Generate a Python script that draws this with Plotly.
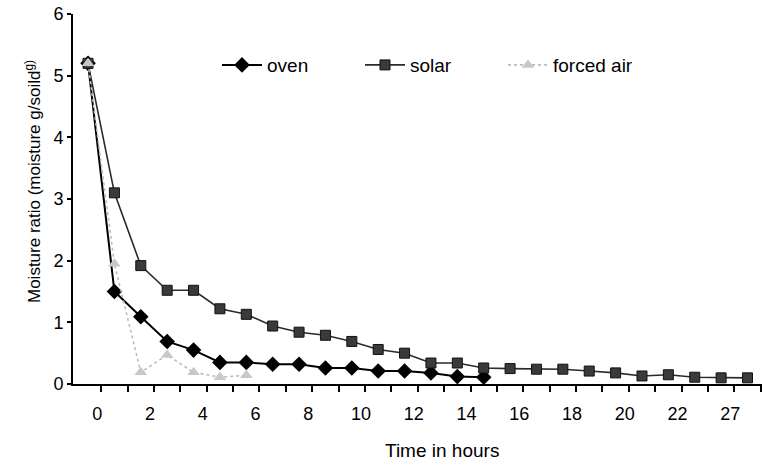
import plotly.graph_objects as go

# Data (x = sample index; points sit between hour ticks)
oven_vals = [5.2, 1.50, 1.09, 0.69, 0.55, 0.35, 0.35, 0.32, 0.32, 0.26, 0.26,
             0.21, 0.21, 0.18, 0.12, 0.11]
solar_vals = [5.2, 3.10, 1.92, 1.52, 1.52, 1.22, 1.13, 0.94, 0.84, 0.79, 0.69,
              0.56, 0.50, 0.34, 0.34, 0.26, 0.25, 0.24, 0.24, 0.21, 0.18,
              0.13, 0.15, 0.11, 0.10, 0.10]
forced_vals = [5.2, 1.95, 0.19, 0.47, 0.19, 0.11, 0.14]

oven_x = list(range(len(oven_vals)))
solar_x = list(range(len(solar_vals)))
forced_x = list(range(len(forced_vals)))

tick_labels = ["0", "2", "4", "6", "8", "10", "12", "14", "16", "18", "20", "22", "27"]
tick_pos = [0.35 + 2 * i for i in range(len(tick_labels))]
minor_pos = [k + 0.5 for k in range(26)]

FONT = "Arial, Liberation Sans, sans-serif"

fig = go.Figure()
fig.add_trace(go.Scatter(
    x=oven_x, y=oven_vals, name="oven", mode="lines+markers",
    line=dict(color="black", width=2),
    marker=dict(symbol="diamond", size=12, color="black"),
))
fig.add_trace(go.Scatter(
    x=solar_x, y=solar_vals, name="solar", mode="lines+markers",
    line=dict(color="#2a2a2a", width=1.6),
    marker=dict(symbol="square", size=10, color="#3a3a3a",
                line=dict(color="#111111", width=1)),
))
fig.add_trace(go.Scatter(
    x=forced_x, y=forced_vals, name="forced air", mode="lines+markers",
    line=dict(color="#bdbdbd", width=1.6, dash="dot"),
    marker=dict(symbol="triangle-up", size=11, color="#c8c8c8"),
))

fig.update_layout(
    width=762, height=465,
    margin=dict(l=73, r=0, t=14, b=81),
    paper_bgcolor="white", plot_bgcolor="white",
    font=dict(family=FONT, color="black", size=18),
    showlegend=True,
    legend=dict(
        orientation="h", x=0.209, y=0.862, xanchor="left", yanchor="middle",
        font=dict(size=19, family=FONT), bgcolor="rgba(0,0,0,0)",
        entrywidth=88, entrywidthmode="pixels", itemwidth=40,
    ),
    xaxis=dict(
        range=[-0.57, 25.55], showgrid=False, zeroline=False,
        showline=True, linecolor="black", linewidth=2,
        tickmode="array", tickvals=tick_pos, ticktext=tick_labels,
        ticks="outside", ticklen=12, tickcolor="rgba(0,0,0,0)",
        tickfont=dict(size=18),
        minor=dict(tickmode="array", tickvals=minor_pos, ticks="outside",
                   ticklen=6, tickwidth=1.5, tickcolor="black", showgrid=False),
    ),
    yaxis=dict(
        range=[0, 6], showgrid=False, zeroline=False,
        showline=True, linecolor="black", linewidth=2,
        tickmode="array", tickvals=[0, 1, 2, 3, 4, 5, 6],
        ticks="outside", ticklen=4, tickwidth=1.5, tickcolor="black",
        tickfont=dict(size=18),
    ),
    annotations=[
        dict(text="Time in hours", xref="paper", yref="paper",
             x=(442 - 73) / 689, y=-(450 - 384) / 370, xanchor="center",
             yanchor="middle", showarrow=False, font=dict(size=19, family=FONT)),
        dict(text="Moisture ratio (moisture g/soild<sup>g)</sup>", xref="paper",
             yref="paper", x=(33 - 73) / 689, y=(384 - 182) / 370,
             xanchor="center", yanchor="middle", textangle=-90,
             showarrow=False, font=dict(size=17, family=FONT)),
    ],
)

fig.write_html("out.html")
